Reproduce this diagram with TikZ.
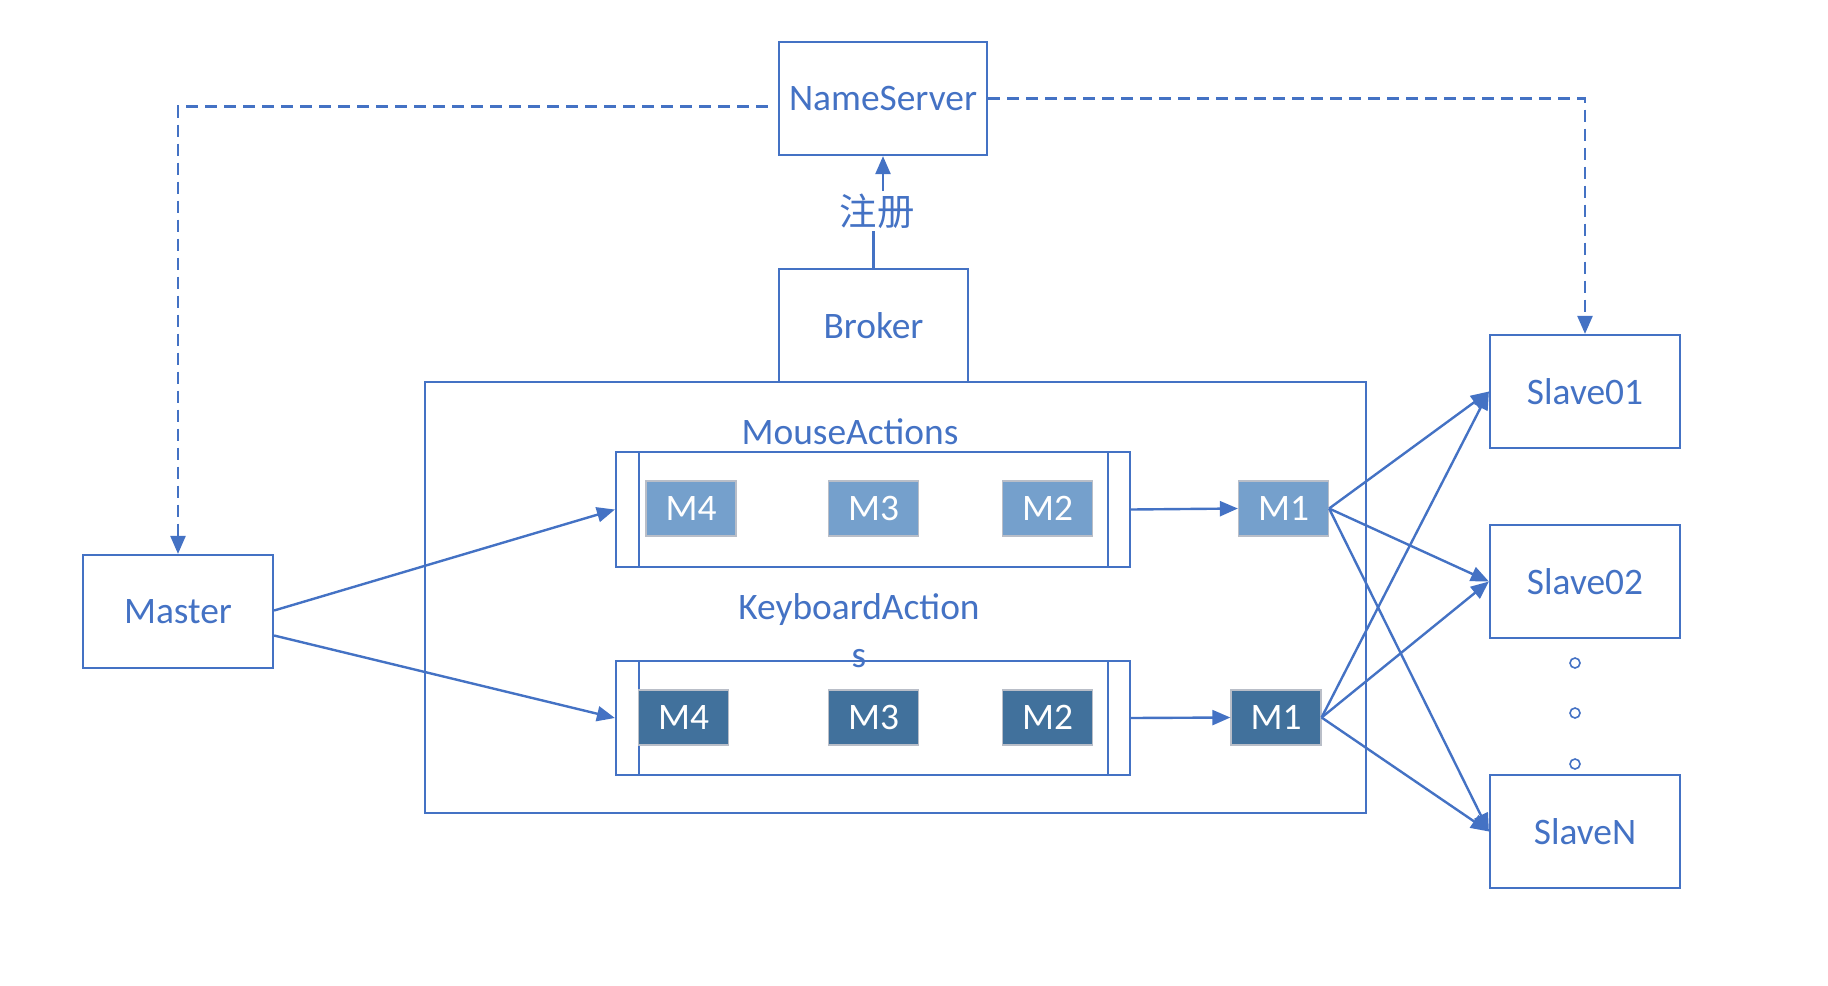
\documentclass[tikz,border=0pt]{standalone}
\usepackage{fontspec}
\setmainfont{Carlito}
\newfontfamily\cjk{Noto Sans CJK SC}
\usetikzlibrary{arrows.meta}
\definecolor{lineblue}{RGB}{68,114,196}
\definecolor{mlight}{RGB}{117,160,204}
\definecolor{mdark}{RGB}{65,113,156}
\definecolor{mborder}{RGB}{185,190,200}
\begin{document}
\begin{tikzpicture}[x=0.5pt,y=-0.5pt,
  every node/.style={font=\fontsize{18.7}{22}\selectfont, text=lineblue},
  box/.style={draw=lineblue, line width=1.1pt, minimum width=95pt, minimum height=56.5pt, inner sep=0pt},
  mlt/.style={fill=mlight, draw=mborder, line width=0.6pt, minimum width=45pt, minimum height=27.5pt, inner sep=0pt, text=white},
  mdk/.style={fill=mdark, draw=mborder, line width=0.6pt, minimum width=45pt, minimum height=27.5pt, inner sep=0pt, text=white},
  queue/.style={draw=lineblue, line width=1.1pt, minimum width=257pt, minimum height=57.5pt, inner sep=0pt},
  conn/.style={draw=lineblue, line width=1.2pt},
  arr/.style={conn, -{Triangle[length=9pt,width=7.5pt]}},
  dsh/.style={conn, dash pattern=on 6pt off 3.5pt},
  dotc/.style={circle, draw=lineblue, line width=0.8pt, minimum size=5pt, inner sep=0pt}
]
\useasboundingbox (0,0) rectangle (1828,986);

% container
\node[draw=lineblue, line width=1.1pt, minimum width=470.5pt, minimum height=215.5pt, inner sep=0pt] (cont) at (895.5,597.5) {};

\node[box, minimum width=104pt] (ns) at (883,98.5) {NameServer};
\node[box, minimum width=94.5pt, fill=white] (broker) at (873.5,325.5) {Broker};
\node[box] (master) at (178,611.5) {Master};
\node[box] (s1) at (1585,391.5) {Slave01};
\node[box] (s2) at (1585,581.5) {Slave02};
\node[box] (sn) at (1585,831.5) {SlaveN};

\node[inner sep=1pt] (reg) at (877,211) {\cjk 注册};

% queues
\node[queue] (qt) at (873,509.5) {};
\node[queue, minimum height=57pt] (qb) at (873,718) {};
\coordinate (qtl1) at (639,452); \coordinate (qtl2) at (639,567);
\coordinate (qtr1) at (1108,452); \coordinate (qtr2) at (1108,567);
\coordinate (qbl1) at (639,661); \coordinate (qbl2) at (639,775);
\coordinate (qbr1) at (1108,661); \coordinate (qbr2) at (1108,775);
\draw[conn, line width=1.1pt] (qtl1) -- (qtl2);
\draw[conn, line width=1.1pt] (qtr1) -- (qtr2);
\draw[conn, line width=1.1pt] (qbl1) -- (qbl2);
\draw[conn, line width=1.1pt] (qbr1) -- (qbr2);

\node (mouse) at (850,432) {MouseActions};
\node[align=center, font=\fontsize{18.7}{24}\selectfont] (kbd) at (859,631) {KeyboardAction\\s};

\node[mlt] (t4) at (691,508.5) {M4};
\node[mlt] (t3) at (873.5,508.5) {M3};
\node[mlt] (t2) at (1047.5,508.5) {M2};
\node[mlt] (t1) at (1283.5,508.5) {M1};
\node[mdk] (b4) at (683.5,717.5) {M4};
\node[mdk] (b3) at (873.5,717.5) {M3};
\node[mdk] (b2) at (1047.5,717.5) {M2};
\node[mdk] (b1) at (1276,717.5) {M1};

\node[dotc] (d1) at (1575,663) {};
\node[dotc] (d2) at (1575,713) {};
\node[dotc] (d3) at (1575,764) {};

% connectors
\draw[dsh, -{Triangle[length=9pt,width=7.5pt]}] ([shift={(-10,8)}]ns.west) -| (master.north);
\draw[dsh, -{Triangle[length=9pt,width=7.5pt]}] (ns.east) -| (s1.north);
\draw[conn] (broker.north) -- (broker.north |- reg.south);
\draw[arr] (reg.north -| ns.south) -- (ns.south);

\draw[arr] ([shift={(0,-1)}]master.east) -- (qt.west);
\draw[arr] ([shift={(0,24)}]master.east) -- (qb.west);
\draw[arr] (qt.east) -- (t1.west);
\draw[arr] (qb.east) -- (b1.west);

\draw[arr] (t1.east) -- (s1.west);
\draw[arr] (t1.east) -- (s2.west);
\draw[arr] (t1.east) -- (sn.west);
\draw[arr] (b1.east) -- (s1.west);
\draw[arr] (b1.east) -- (s2.west);
\draw[arr] (b1.east) -- (sn.west);
\end{tikzpicture}
\end{document}
